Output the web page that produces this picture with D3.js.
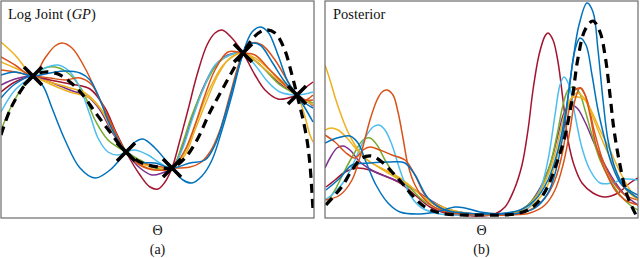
<!DOCTYPE html>
<html>
<head>
<meta charset="utf-8">
<script src="https://cdn.jsdelivr.net/npm/d3@7"></script>
<style>
  html, body { margin: 0; padding: 0; background: #fff; }
  svg { display: block; }
  text { font-family: "Liberation Serif", "DejaVu Serif", serif; fill: #111; }
</style>
</head>
<body>
<div id="chart"></div>
<script>
// ---- data: Θ on a common axis ----
// left panel: GP samples of the log joint
var jointTrue = [[0.1,8.3],[1.0,10.8],[2.0,12.6],[3.3,14.2],[4.5,14.6],[5.8,14.4],[7.0,13.6],[8.2,12.4],[9.5,10.6],[11.0,8.6],[12.6,6.6],[14.2,5.5],[15.8,5.1],[17.2,5.0],[18.5,6.0],[19.7,7.8],[21.0,10.6],[22.2,12.8],[23.3,14.8],[24.3,16.5],[25.4,18.1],[26.5,18.8],[27.5,18.5],[28.4,17.0],[29.2,14.3],[29.7,12.3],[30.2,10.3],[30.7,7.8],[31.0,5.3],[31.3,0.8]];
var jointBlue1 = [[0.1,12.0],[1.5,13.4],[3.3,14.2],[4.3,13.2],[5.2,11.0],[6.5,7.8],[8.0,5.0],[9.5,4.0],[11.0,4.8],[12.6,6.6],[13.5,7.6],[14.3,7.9],[15.5,7.0],[17.2,5.0],[18.3,3.8],[19.2,3.5],[20.2,4.2],[21.2,5.8],[22.2,8.8],[23.2,12.3],[24.3,16.5],[25.2,18.6],[26.0,19.1],[26.8,18.6],[27.8,16.3],[28.8,13.6],[29.7,12.3],[30.5,11.0],[31.3,9.6]];
var jointBlue2 = [[0.1,14.3],[1.5,14.6],[3.3,14.2],[5.0,14.5],[6.5,14.7],[8.0,14.5],[9.0,13.8],[10.0,11.8],[11.0,9.3],[12.6,6.6],[14.0,5.6],[15.5,5.5],[17.2,5.0],[19.0,5.5],[20.5,5.8],[21.5,7.3],[22.5,10.3],[23.5,13.8],[24.3,16.3],[25.0,17.4],[26.0,17.3],[27.2,15.6],[28.5,13.6],[29.7,12.3],[30.5,11.5],[31.3,11.0]];
var jointRed = [[0.1,12.6],[1.5,13.6],[3.3,14.2],[5.0,13.8],[7.0,13.4],[9.0,12.9],[10.5,11.0],[11.5,8.8],[12.6,6.6],[14.0,4.3],[15.0,3.1],[15.8,2.9],[16.5,3.6],[17.2,5.0],[18.0,7.8],[18.8,10.8],[19.7,14.3],[20.7,17.3],[21.5,18.5],[22.2,18.8],[23.0,18.2],[24.3,16.5],[25.5,14.3],[26.5,12.8],[27.8,11.9],[28.8,12.0],[29.7,12.3],[30.5,13.0],[31.3,13.6]];
var jointOrange1 = [[0.1,16.1],[1.5,15.3],[3.3,14.2],[4.5,16.0],[5.5,17.2],[6.2,17.5],[7.2,17.0],[8.5,15.0],[10.0,11.8],[11.2,9.3],[12.6,6.6],[14.0,5.3],[15.5,4.8],[17.2,5.0],[18.5,6.8],[19.5,9.3],[20.5,12.3],[21.5,14.8],[22.8,16.6],[24.3,16.5],[25.5,16.3],[27.0,14.8],[28.5,13.3],[29.7,12.3],[30.5,11.8],[31.3,11.8]];
var jointOrange2 = [[0.1,14.8],[1.5,14.6],[3.3,14.2],[5.0,14.0],[6.5,13.8],[8.0,14.0],[9.2,13.3],[10.2,11.4],[11.3,9.0],[12.6,6.6],[14.0,5.6],[15.5,5.2],[17.2,5.0],[19.0,5.1],[20.0,5.5],[21.0,6.6],[22.0,8.8],[23.0,12.3],[24.3,16.5],[25.2,17.5],[26.2,17.3],[27.5,15.8],[28.7,13.8],[29.7,12.3],[30.5,11.8],[31.3,12.3]];
var jointYellow1 = [[0.1,17.6],[1.5,16.3],[3.3,14.2],[5.0,13.6],[7.0,13.0],[8.5,12.5],[10.0,11.0],[11.2,8.8],[12.6,6.6],[14.0,5.5],[15.5,5.1],[17.2,5.0],[18.5,6.3],[19.5,8.8],[20.7,11.8],[21.8,14.3],[23.0,16.0],[24.3,16.5],[25.8,15.8],[27.5,14.3],[29.7,12.3],[30.3,10.8],[31.0,8.3],[31.3,7.6]];
var jointYellow2 = [[0.1,15.6],[1.5,15.0],[3.3,14.2],[5.0,13.4],[7.0,12.6],[9.0,12.0],[10.5,10.3],[11.5,8.3],[12.6,6.6],[14.0,5.3],[15.8,4.8],[17.2,5.0],[18.5,6.6],[19.7,9.8],[21.0,13.0],[22.5,15.5],[24.3,16.5],[26.0,15.3],[28.0,13.6],[29.7,12.3],[30.5,11.8],[31.3,11.3]];
var jointCyan = [[0.1,10.6],[1.5,12.8],[3.3,14.2],[4.5,15.0],[5.8,15.3],[7.0,14.6],[8.0,13.0],[9.0,10.3],[9.8,8.0],[10.8,6.6],[11.8,6.3],[12.6,6.6],[13.5,6.8],[14.8,6.3],[16.0,5.5],[17.2,5.0],[18.2,6.8],[19.2,9.8],[20.3,12.8],[21.5,15.3],[23.0,16.3],[24.3,16.5],[25.5,15.3],[26.8,13.6],[28.0,12.6],[29.7,12.3],[30.5,12.4],[31.3,12.6]];
var jointGreen = [[0.1,8.8],[1.2,11.3],[2.2,13.0],[3.3,14.2],[4.5,15.0],[5.5,15.1],[6.8,14.5],[8.2,12.8],[9.5,9.8],[10.8,7.8],[12.6,6.6],[14.0,5.8],[15.5,5.0],[17.2,5.0],[18.2,7.3],[19.2,10.3],[20.5,13.3],[21.8,15.5],[23.0,16.3],[24.3,16.5],[26.0,15.3],[28.0,13.3],[29.7,12.3],[30.5,11.8],[31.3,11.5]];
var jointPurple = [[0.1,13.3],[1.5,13.9],[3.3,14.2],[5.0,13.6],[7.0,12.8],[8.8,12.1],[10.0,10.8],[11.2,8.6],[12.6,6.6],[14.0,5.0],[15.2,4.3],[16.2,4.5],[17.2,5.0],[18.2,7.0],[19.2,10.0],[20.3,13.0],[21.5,15.2],[22.8,16.3],[24.3,16.5],[25.8,15.5],[27.8,13.6],[29.7,12.3],[30.5,11.8],[31.3,11.2]];
var observed = [[3.3,14.2],[12.6,6.6],[17.2,5.0],[24.3,16.5],[29.7,12.3]];

// right panel: matching posteriors
var postTrue = [[0.2,1.3],[1.1,2.3],[1.9,3.3],[2.8,4.8],[3.8,6.0],[4.8,6.2],[5.8,5.6],[6.8,4.6],[7.8,3.5],[8.8,2.3],[10.1,1.1],[11.6,0.5],[13.6,0.3],[15.6,0.3],[17.6,0.3],[19.1,0.4],[20.4,0.8],[21.4,1.6],[22.4,3.2],[23.2,5.3],[24.0,7.8],[24.8,11.8],[25.4,16.0],[26.1,18.8],[26.9,19.7],[27.6,18.6],[28.1,16.3],[28.6,12.3],[29.0,8.8],[29.6,5.3],[30.3,2.3],[31.2,0.3]];
var postRed = [[0.2,3.1],[1.1,3.8],[2.1,4.6],[3.3,5.0],[4.6,4.8],[6.1,4.2],[7.6,3.5],[9.1,2.3],[10.6,1.1],[12.1,0.5],[13.6,0.3],[15.6,0.2],[17.1,0.4],[18.1,1.1],[19.0,2.8],[19.8,5.3],[20.4,8.8],[20.9,12.8],[21.5,16.3],[22.1,18.2],[22.4,18.5],[22.9,17.8],[23.4,15.6],[23.9,11.8],[24.4,7.8],[25.0,5.3],[25.8,3.5],[26.9,2.5],[28.1,2.1],[29.4,2.5],[30.6,3.5],[31.4,4.0]];
var postBlue1 = [[0.2,2.8],[1.6,4.0],[2.8,5.3],[4.6,5.5],[6.6,5.6],[8.1,5.5],[9.1,4.3],[10.4,2.0],[12.1,0.8],[14.1,0.5],[16.1,0.4],[18.1,0.5],[19.6,0.8],[21.1,1.8],[22.4,3.8],[23.4,6.8],[24.2,10.8],[24.9,15.8],[25.5,19.3],[26.3,21.5],[26.9,20.6],[27.4,16.8],[27.9,11.8],[28.4,7.8],[29.1,5.0],[30.1,3.0],[31.4,2.0]];
var postBlue2 = [[0.1,7.5],[1.3,8.0],[2.6,8.2],[3.4,7.5],[4.2,5.6],[5.2,3.3],[6.4,1.5],[7.6,0.6],[9.6,0.4],[11.6,0.7],[13.1,1.1],[14.1,1.0],[15.6,0.6],[17.6,0.4],[19.6,0.5],[21.1,1.0],[22.4,2.5],[23.2,4.8],[23.9,8.3],[24.5,12.8],[25.1,16.8],[25.6,18.0],[26.2,17.3],[26.8,14.3],[27.4,10.8],[28.1,7.8],[28.8,5.3],[29.8,3.3],[31.4,2.3]];
var postOrange1 = [[0.2,1.8],[1.6,2.3],[2.8,3.8],[3.8,6.8],[4.6,9.8],[5.3,11.8],[5.8,12.6],[6.3,12.8],[6.9,12.3],[7.4,10.6],[7.9,8.0],[8.4,5.3],[9.1,3.3],[10.1,1.8],[11.6,0.8],[13.6,0.4],[16.6,0.3],[18.6,0.3],[20.6,0.5],[22.1,1.3],[23.1,2.8],[23.9,5.3],[24.6,8.8],[25.1,11.8],[25.6,13.0],[26.1,12.3],[26.6,10.3],[27.2,7.3],[28.1,4.8],[29.1,2.8],[30.1,1.8],[31.4,1.3]];
var postOrange2 = [[0.1,8.3],[1.1,7.6],[2.1,6.6],[3.1,6.0],[3.9,6.8],[4.6,7.1],[5.6,6.8],[6.8,6.3],[8.1,5.8],[9.1,4.3],[10.1,2.3],[11.6,1.0],[13.6,0.5],[16.6,0.4],[19.1,0.5],[20.6,0.8],[22.1,2.0],[23.1,3.8],[23.9,6.8],[24.5,10.8],[25.1,12.8],[25.7,13.0],[26.3,11.8],[27.0,8.8],[27.8,6.0],[28.8,3.8],[30.1,2.3],[31.4,1.8]];
var postYellow1 = [[0.1,15.3],[0.6,13.8],[1.1,12.1],[1.6,10.6],[2.3,8.8],[3.1,7.3],[4.1,6.0],[5.6,5.0],[7.1,4.1],[8.6,3.2],[10.1,2.0],[12.1,1.0],[14.1,0.5],[16.6,0.3],[18.6,0.4],[20.1,1.0],[21.4,2.3],[22.4,4.3],[23.2,6.8],[23.9,9.8],[24.6,11.8],[25.3,12.5],[26.0,12.0],[26.8,10.3],[27.6,8.3],[28.6,6.0],[29.8,3.3],[31.4,1.8]];
var postYellow2 = [[0.1,8.8],[0.7,9.0],[1.4,8.8],[2.3,8.0],[3.3,6.8],[4.6,5.6],[6.1,4.8],[7.6,4.0],[9.1,2.8],[10.6,1.6],[12.6,0.8],[14.6,0.4],[17.1,0.3],[19.1,0.4],[20.6,1.1],[21.8,2.3],[22.8,4.3],[23.6,7.3],[24.2,10.3],[24.8,12.0],[25.4,12.1],[26.1,11.8],[26.8,10.6],[27.6,8.8],[28.6,6.8],[29.6,4.6],[30.6,2.8],[31.4,1.8]];
var postCyan = [[0.1,1.8],[1.1,2.6],[2.1,3.8],[3.1,5.8],[4.1,8.0],[4.9,9.1],[5.5,9.3],[6.1,8.8],[6.8,7.3],[7.6,4.8],[8.6,2.3],[9.8,1.0],[11.6,0.4],[14.6,0.3],[17.6,0.3],[19.1,0.4],[20.4,1.0],[21.6,2.8],[22.4,5.8],[23.1,10.3],[23.6,13.3],[24.0,14.1],[24.5,13.3],[25.1,10.3],[25.8,7.0],[26.6,4.8],[27.6,3.5],[28.8,3.5],[30.1,3.9],[31.4,3.8]];
var postGreen = [[0.1,1.3],[1.1,2.8],[2.1,4.8],[3.1,6.6],[3.9,7.8],[4.6,8.0],[5.3,7.3],[6.1,5.8],[7.1,4.3],[8.6,3.0],[10.1,1.6],[12.1,0.7],[14.6,0.4],[17.6,0.3],[19.1,0.5],[20.4,1.3],[21.6,2.8],[22.6,5.3],[23.3,8.3],[23.9,11.3],[24.4,12.8],[24.9,13.1],[25.5,12.6],[26.1,10.8],[26.8,8.3],[27.6,5.8],[28.6,3.8],[29.6,2.3],[30.6,1.3],[31.4,0.8]];
var postPurple = [[0.1,5.0],[0.6,6.0],[1.3,7.0],[1.9,7.2],[2.6,6.8],[3.6,5.6],[5.1,4.6],[7.1,3.8],[9.1,2.8],[10.6,1.8],[12.6,0.8],[15.1,0.4],[17.6,0.3],[19.1,0.5],[20.4,1.3],[21.6,3.0],[22.6,5.3],[23.4,8.3],[24.0,10.5],[24.6,11.3],[25.3,11.0],[26.1,9.6],[27.1,7.3],[28.1,5.3],[29.1,3.6],[30.1,2.3],[31.4,1.3]];

var colors = {
    blue: "#0072BD", orange: "#D95319", yellow: "#EDB120", purple: "#7E2F8E",
    green: "#77AC30", cyan: "#4DBEEE", red: "#A2142F"
};

var W = 640, H = 258;
var svg = d3.select("#chart").append("svg").attr("width", W).attr("height", H);

function drawPanel(opts){
    var x = d3.scaleLinear().domain([0.1, 31.4]).range([opts.left, opts.left + 313]);
    var y = d3.scaleLinear().domain([0, 21.7]).range([218, 1]);
    var g = svg.append("g");

    g.append("clipPath").attr("id", opts.id)
        .append("rect")
        .attr("x", opts.left).attr("y", 1)
        .attr("width", 313).attr("height", 217);

    var line = d3.line()
        .x(function(d){ return x(d[0]); })
        .y(function(d){ return y(d[1]); })
        .curve(d3.curveCatmullRom.alpha(0.5));

    var plot = g.append("g").attr("clip-path", "url(#" + opts.id + ")");
    plot.selectAll("path.sample")
        .data(opts.series)
        .enter().append("path")
        .attr("class", "sample")
        .attr("d", function(s){ return line(s.values); })
        .attr("fill", "none")
        .attr("stroke", function(s){ return colors[s.color]; })
        .attr("stroke-width", 1.5);

    plot.append("path")
        .attr("d", line(opts.truth))
        .attr("fill", "none")
        .attr("stroke", "#000")
        .attr("stroke-width", 3.2)
        .attr("stroke-dasharray", "9,6");

    if (opts.points) {
        var cross = g.selectAll("g.obs").data(opts.points).enter().append("g")
            .attr("class", "obs")
            .attr("transform", function(d){ return "translate(" + x(d[0]) + "," + y(d[1]) + ")"; });
        cross.append("path")
            .attr("d", "M-9,-9L9,9M-9,9L9,-9")
            .attr("stroke", "#000")
            .attr("stroke-width", 3.6)
            .attr("fill", "none");
    }

    // frame
    g.append("rect")
        .attr("x", opts.left).attr("y", 1)
        .attr("width", 313).attr("height", 217)
        .attr("fill", "none")
        .attr("stroke", "#6b6b6b")
        .attr("stroke-width", 1.2);

    var title = g.append("text")
        .attr("x", opts.left + opts.titleDx).attr("y", 19)
        .attr("font-size", 14.5);
    title.append("tspan").text(opts.title);
    if (opts.titleItalic) {
        title.append("tspan").attr("font-style", "italic").text(opts.titleItalic);
        title.append("tspan").text(")");
    }

    var cx = opts.left + 313 / 2;
    g.append("text").attr("x", cx).attr("y", 235)
        .attr("text-anchor", "middle").attr("font-size", 14).text("Θ");
    g.append("text").attr("x", cx).attr("y", 254)
        .attr("text-anchor", "middle").attr("font-size", 14).text(opts.caption);
}

drawPanel({
    id: "clipA", left: 1, titleDx: 7,
    title: "Log Joint (", titleItalic: "GP", caption: "(a)",
    truth: jointTrue, points: observed,
    series: [
        {color: "red", values: jointRed},
        {color: "purple", values: jointPurple},
        {color: "green", values: jointGreen},
        {color: "yellow", values: jointYellow2},
        {color: "cyan", values: jointCyan},
        {color: "orange", values: jointOrange2},
        {color: "yellow", values: jointYellow1},
        {color: "orange", values: jointOrange1},
        {color: "blue", values: jointBlue2},
        {color: "blue", values: jointBlue1}
    ]
});

drawPanel({
    id: "clipB", left: 325, titleDx: 8,
    title: "Posterior", caption: "(b)",
    truth: postTrue,
    series: [
        {color: "red", values: postRed},
        {color: "purple", values: postPurple},
        {color: "green", values: postGreen},
        {color: "yellow", values: postYellow2},
        {color: "cyan", values: postCyan},
        {color: "orange", values: postOrange2},
        {color: "yellow", values: postYellow1},
        {color: "orange", values: postOrange1},
        {color: "blue", values: postBlue2},
        {color: "blue", values: postBlue1}
    ]
});
</script>
</body>
</html>
